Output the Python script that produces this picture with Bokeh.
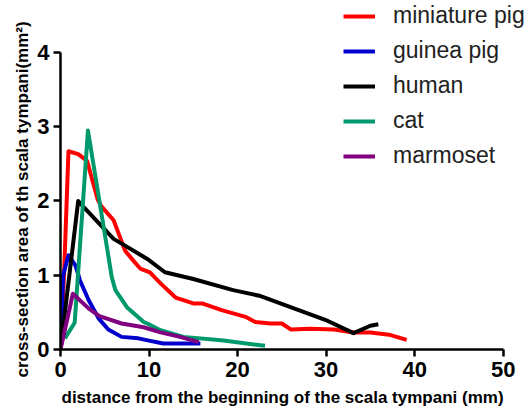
from bokeh.plotting import figure
from bokeh.models import Range1d, Legend, LegendItem, FixedTicker, Title
from bokeh.embed import file_html
from bokeh.resources import INLINE

# ---- data ----
mini_pig_x = [0, 0.4, 0.9, 2.0, 3.0, 4.2, 4.6, 6.0, 6.6, 7.3, 8.2, 9.0, 10.1, 11.3, 13.0, 15.0, 16.0, 18.2, 20.9, 22.0, 23.7, 25.0, 26.0, 28.2, 30.9, 33.1, 35.0, 37.1, 39.1]
mini_pig_y = [0, 1.0, 2.67, 2.63, 2.54, 2.02, 1.93, 1.74, 1.55, 1.33, 1.2, 1.09, 1.04, 0.89, 0.70, 0.62, 0.62, 0.53, 0.44, 0.37, 0.35, 0.35, 0.27, 0.28, 0.27, 0.23, 0.23, 0.20, 0.13]

guinea_x = [0, 0.3, 0.9, 1.7, 2.2, 3.2, 4.3, 5.4, 6.9, 8.8, 10.0, 11.6, 15.8]
guinea_y = [0, 1.0, 1.27, 1.13, 0.93, 0.66, 0.42, 0.27, 0.17, 0.15, 0.12, 0.08, 0.08]

human_x = [0, 2.0, 2.6, 6.0, 9.8, 11.8, 15.0, 19.5, 22.6, 29.9, 33.1, 35.0, 35.9]
human_y = [0, 2.0, 1.92, 1.49, 1.22, 1.04, 0.95, 0.80, 0.72, 0.40, 0.22, 0.32, 0.34]

cat_x = [0.5, 1.6, 3.1, 5.8, 6.2, 7.5, 9.4, 9.8, 11.3, 13.9, 18.4, 23.1]
cat_y = [0.15, 0.36, 2.95, 0.97, 0.80, 0.57, 0.37, 0.35, 0.26, 0.17, 0.12, 0.05]

marmoset_x = [0, 1.4, 3.2, 4.4, 6.9, 9.4, 11.3, 13.5, 15.6]
marmoset_y = [0, 0.75, 0.55, 0.45, 0.35, 0.30, 0.23, 0.17, 0.10]

series_names = ["miniature pig", "guinea pig", "human", "cat", "marmoset"]
series_colors = ["#FF0000", "#0000CC", "#000000", "#00996B", "#800080"]
x_ticks = [0, 10, 20, 30, 40, 50]
y_ticks = [0, 1, 2, 3, 4]
x_label = "distance from the beginning of the scala tympani (mm)"
y_label = "cross-section area of th scala tympani(mm\u00b2)"

FONT = "Liberation Sans"

p = figure(width=531, height=413, output_backend="svg", toolbar_location=None,
           x_range=Range1d(0, 53.2), y_range=Range1d(0, 4.70),
           min_border_left=60, min_border_right=0, min_border_top=0, min_border_bottom=64)
p.outline_line_color = None
p.xgrid.visible = False
p.ygrid.visible = False

series = [(mini_pig_x, mini_pig_y), (guinea_x, guinea_y), (human_x, human_y),
          (cat_x, cat_y), (marmoset_x, marmoset_y)]
items = []
for (xs, ys), name, col in zip(series, series_names, series_colors):
    r = p.line(xs, ys, line_color=col, line_width=4, line_join="round")
    items.append(LegendItem(label=name, renderers=[r]))

for ax in (p.xaxis[0], p.yaxis[0]):
    ax.axis_line_width = 2.5
    ax.axis_line_color = "black"
    ax.major_tick_line_width = 2.5
    ax.major_tick_out = 7
    ax.major_tick_in = 0
    ax.minor_tick_out = 0
    ax.minor_tick_in = 0
    ax.major_label_text_font = FONT
    ax.major_label_text_font_style = "bold"
    ax.major_label_text_font_size = "22px"
    ax.major_label_text_color = "black"

p.xaxis[0].ticker = FixedTicker(ticks=x_ticks)
p.yaxis[0].ticker = FixedTicker(ticks=y_ticks)
p.xaxis[0].bounds = (0, 50)
p.yaxis[0].bounds = (0, 4)
p.xaxis[0].major_label_standoff = 5
p.yaxis[0].major_label_standoff = 4

# axis titles as side titles, positioned so they are centred on the axis lines
xt = Title(text=x_label, align="left", offset=1, standoff=12, vertical_align="bottom",
           text_font=FONT, text_font_style="bold", text_font_size="17px", text_color="black")
xt.standoff = 12
yt = Title(text=y_label, align="left", offset=-28, standoff=6,
           text_font=FONT, text_font_style="bold", text_font_size="17px", text_color="black")
p.add_layout(xt, "below")
p.add_layout(yt, "left")

legend = Legend(items=items, location=(283, 180),
                label_text_font=FONT, label_text_font_size="23px",
                label_text_color="#222222",
                label_height=24, glyph_height=24, glyph_width=32,
                label_standoff=18, spacing=8, padding=0, margin=0,
                border_line_color=None, background_fill_alpha=0)
p.add_layout(legend, "center")

open("out.html", "w").write(file_html(p, INLINE))
